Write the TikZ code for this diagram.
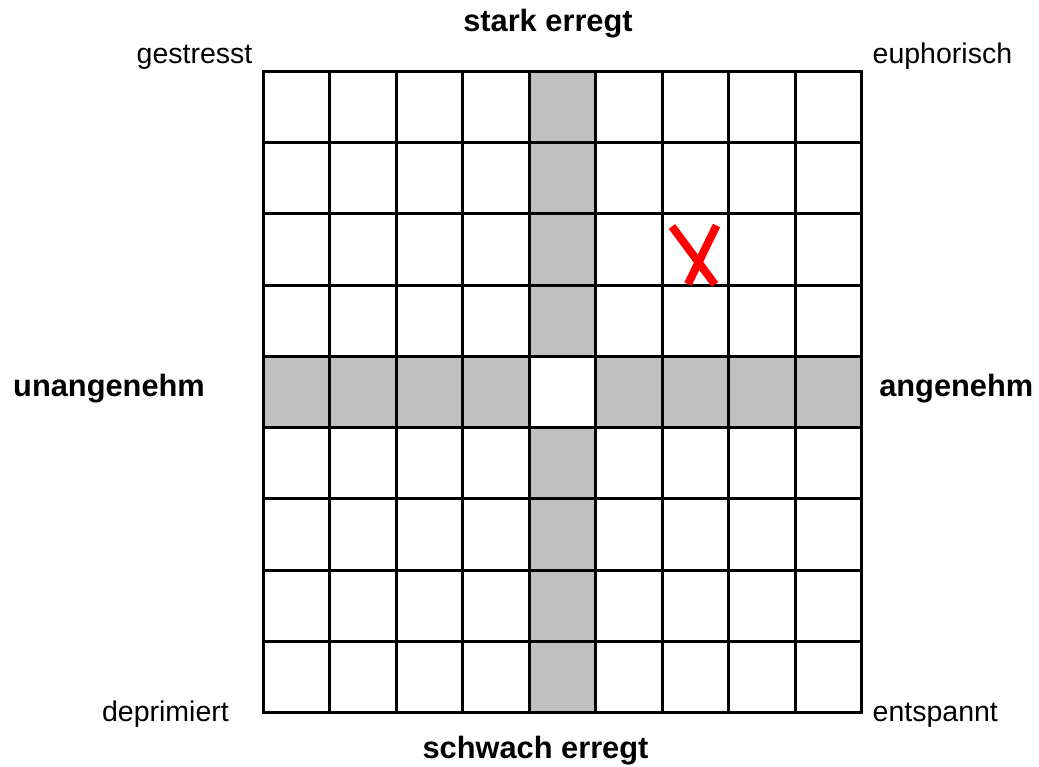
\documentclass[tikz,border=0pt]{standalone}
\usepackage{fontspec}
\setmainfont{Liberation Sans}
\definecolor{cellgray}{HTML}{C0C0C0}
\definecolor{xred}{HTML}{FF0000}
\tikzset{
  lbl/.style={inner sep=0pt, font=\fontsize{28.5}{30}\selectfont},
  blbl/.style={inner sep=0pt, font=\fontsize{30.8}{33}\selectfont\bfseries},
  gridline/.style={line width=3pt, black},
  mark x/.style={line width=8pt, xred}
}
\begin{document}
\begin{tikzpicture}[x=1pt,y=-1pt]
\useasboundingbox (0,0) rectangle (1039,767);
\def\L{263.5}\def\R{861.5}\def\T{71.5}\def\B{712.5}
\pgfmathsetmacro{\cw}{(\R-\L)/9}
\pgfmathsetmacro{\rh}{(\B-\T)/9}
% gray cross
\fill[cellgray] (\L+4*\cw,\T) rectangle (\L+5*\cw,\B);
\fill[cellgray] (\L,\T+4*\rh) rectangle (\R,\T+5*\rh);
\fill[white] (\L+4*\cw,\T+4*\rh) rectangle (\L+5*\cw,\T+5*\rh);
% grid
\foreach \i in {0,...,9} {
  \draw[gridline] (\L+\i*\cw,\T-1.5) -- (\L+\i*\cw,\B+1.5);
  \draw[gridline] (\L-1.5,\T+\i*\rh) -- (\R+1.5,\T+\i*\rh);
}
% X mark
\coordinate (xa1) at (672,226.5);
\coordinate (xa2) at (715,284.5);
\coordinate (xb1) at (716.5,225.5);
\coordinate (xb2) at (688,284);
\draw[mark x] (xa1) -- (xa2);
\draw[mark x] (xb1) -- (xb2);
% labels
\node[blbl, anchor=base] (top) at (548,31.5) {stark erregt};
\node[blbl, anchor=base] (bot) at (535.5,758) {schwach erregt};
\node[blbl, anchor=base west] (left) at (13,396.7) {unangenehm};
\node[blbl, anchor=base east] (right) at (1033.5,396.7) {angenehm};
\node[lbl, anchor=base east] (tl) at (252.5,63.5) {gestresst};
\node[lbl, anchor=base west] (tr) at (872.5,63.5) {euphorisch};
\node[lbl, anchor=base east] (bl) at (229,721.5) {deprimiert};
\node[lbl, anchor=base west] (br) at (872.5,721.5) {entspannt};
\end{tikzpicture}
\end{document}
